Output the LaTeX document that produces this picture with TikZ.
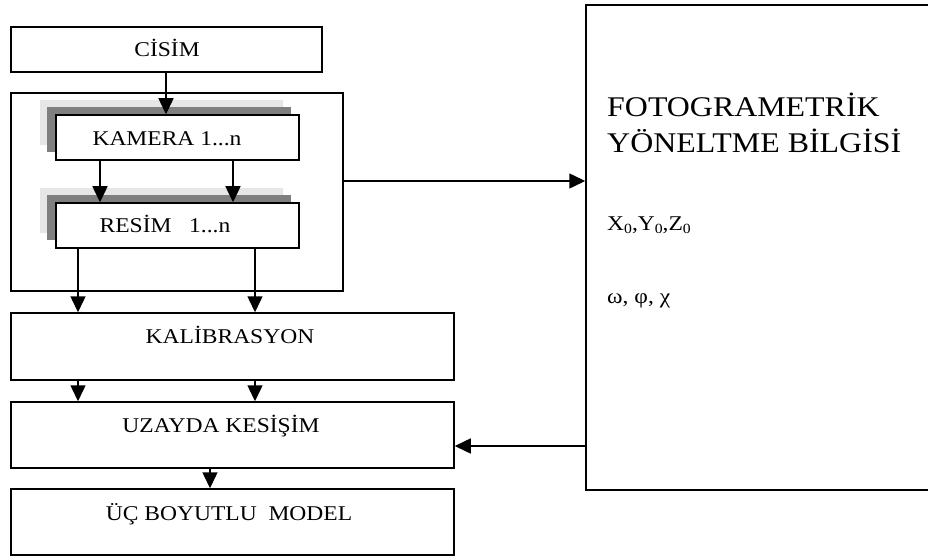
\documentclass[tikz,border=0pt]{standalone}
\usepackage{fontspec}
\setmainfont{Liberation Serif}[FakeStretch=1.12]
\usetikzlibrary{arrows.meta}
\definecolor{shadelight}{HTML}{E6E6E6}
\definecolor{shadedark}{HTML}{7F7F7F}
\begin{document}
\begin{tikzpicture}[x=1pt,y=-1pt,
  box/.style={draw=black, line width=1.5pt, fill=white, inner sep=0pt, minimum width=#1},
  box/.default={100pt},
  lbl/.style={anchor=base, inner sep=0pt, font=\fontsize{21}{25}\selectfont},
  arr/.style={line width=1.5pt, -{Triangle[length=16pt,width=15pt]}},
  shl/.style={fill=shadelight, draw=none},
  shd/.style={fill=shadedark, draw=none}]
\useasboundingbox (0,0) rectangle (928,556);
% helper coordinates
\coordinate (xa) at (100,0);
\coordinate (xb) at (233,0);
\coordinate (xc) at (78,0);
\coordinate (xd) at (255,0);
\coordinate (xe) at (210,0);
\coordinate (xf) at (166,0);
\coordinate (ya) at (0,181);
\coordinate (yb) at (0,446);
% boxes
\node[box=311pt, minimum height=45pt] (cisim) at (166.5,49.5) {};
\node[box=332pt, minimum height=198pt] (group) at (177,192) {};
% shadows
\fill[shl] (40,100) rectangle (283,145);
\fill[shd] (47,107) rectangle (291,152);
\fill[shl] (40,188) rectangle (283,233);
\fill[shd] (47,195) rectangle (291,240);
\node[box=243pt, minimum height=45pt] (kamera) at (177.5,137.5) {};
\node[box=243pt, minimum height=45pt] (resim) at (177.5,225.5) {};
\node[box=443pt, minimum height=67pt] (kal) at (232.5,346.5) {};
\node[box=443pt, minimum height=66pt] (uz) at (232.5,435) {};
\node[box=443pt, minimum height=66pt] (uc) at (232.5,522) {};
\node[box=349pt, minimum height=485pt] (big) at (760.5,247.5) {};
% texts
\node[lbl] (tcisim) at (167,57) {CİSİM};
\node[lbl] (tkam) at (167,145.5) {KAMERA 1...n};
\node[lbl] (tres) at (165,232) {RESİM\ \ \ 1...n};
\node[lbl] (tkal) at (230,343) {KALİBRASYON};
\node[lbl] (tuz) at (221,432) {UZAYDA KESİŞİM};
\node[lbl] (tuc) at (229,520) {ÜÇ BOYUTLU\ \ MODEL};
\node[anchor=base west, inner sep=0pt, align=left, font=\fontsize{28.5}{36}\selectfont] (tfoto) at (607,153) {FOTOGRAMETRİK\\YÖNELTME BİLGİSİ};
\node[lbl, anchor=base west] (txyz) at (607,230) {X{\fontsize{14}{14}\selectfont\raisebox{-3pt}{0}},Y{\fontsize{14}{14}\selectfont\raisebox{-3pt}{0}},Z{\fontsize{14}{14}\selectfont\raisebox{-3pt}{0}}};
\node[lbl, anchor=base west] (tang) at (607,303) {ω, φ, χ};
% connectors
\draw[arr] (cisim.south -| xf) -- (kamera.north -| xf);
\draw[arr] (kamera.south -| xa) -- (resim.north -| xa);
\draw[arr] (kamera.south -| xb) -- (resim.north -| xb);
\draw[arr] (resim.south -| xc) -- (kal.north -| xc);
\draw[arr] (resim.south -| xd) -- (kal.north -| xd);
\draw[arr] (kal.south -| xc) -- (uz.north -| xc);
\draw[arr] (kal.south -| xd) -- (uz.north -| xd);
\draw[arr] (uz.south -| xe) -- (uc.north -| xe);
\draw[arr] (group.east |- ya) -- (big.west |- ya);
\draw[arr] (big.west |- yb) -- (uz.east |- yb);
\end{tikzpicture}
\end{document}
